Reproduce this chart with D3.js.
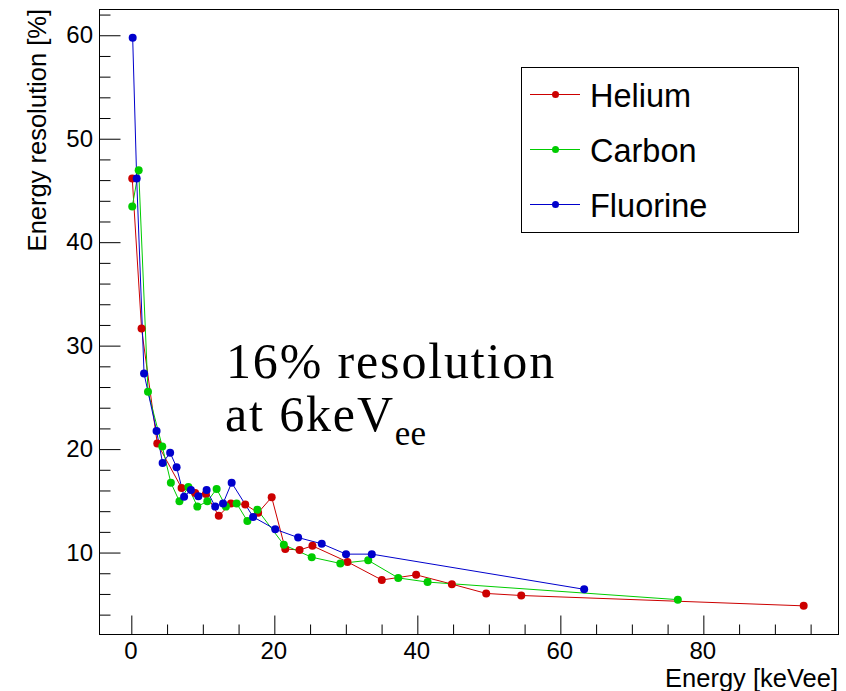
<!DOCTYPE html>
<html><head><meta charset="utf-8">
<script src="https://cdn.jsdelivr.net/npm/d3@7"></script>
<style>
body{margin:0;background:#fff;}
svg text{font-family:"Liberation Sans",Arial,Helvetica,sans-serif;fill:#000;}
</style>
</head><body>
<svg id="chart" width="846" height="691"></svg>
<script>
// ---- data ----
const heliumX = [0.2, 1.5, 3.7, 7.1, 9.0, 10.5, 12.3, 14.0, 16.0, 17.8, 19.7, 21.6, 23.6, 25.4, 30.3, 35.1, 39.9, 44.9, 49.7, 54.6, 94.1];
const heliumY = [46.1, 31.6, 20.5, 16.2, 15.7, 15.6, 13.5, 14.7, 14.6, 13.8, 15.3, 10.3, 10.2, 10.6, 9.05, 7.3, 7.8, 6.9, 6.0, 5.8, 4.8];
const carbonX = [0.2, 1.1, 2.4, 4.4, 5.6, 6.8, 8.05, 9.3, 10.7, 12.0, 13.3, 14.8, 16.3, 17.7, 21.4, 25.3, 29.3, 33.2, 37.4, 41.5, 76.5];
const carbonY = [43.4, 46.9, 25.5, 20.2, 16.7, 14.9, 16.3, 14.4, 14.9, 16.1, 14.4, 14.7, 13.0, 14.1, 10.7, 9.5, 8.9, 9.2, 7.5, 7.1, 5.4];
const fluorineX = [0.26, 0.82, 1.85, 3.6, 4.45, 5.5, 6.4, 7.45, 8.4, 9.45, 10.6, 11.8, 12.9, 14.1, 17.1, 20.2, 23.4, 26.7, 30.1, 33.7, 63.4];
const fluorineY = [59.7, 46.1, 27.25, 21.7, 18.6, 19.6, 18.2, 15.35, 16.0, 15.4, 16.0, 14.4, 14.7, 16.7, 13.4, 12.2, 11.4, 10.8, 9.8, 9.8, 6.4];

const seriesNames = ["Helium", "Carbon", "Fluorine"];
const seriesColors = ["#cc0000", "#00cc00", "#0000cc"];
const xTickValues = [0, 20, 40, 60, 80];
const yTickValues = [10, 20, 30, 40, 50, 60];
const xTitle = "Energy [keVee]";
const yTitle = "Energy resolution [%]";
const annotLine1 = "16% resolution";
const annotLine2 = "at 6keV";
const annotSub = "ee";

const series = [
  {name: seriesNames[0], color: seriesColors[0], xs: heliumX, ys: heliumY},
  {name: seriesNames[1], color: seriesColors[1], xs: carbonX, ys: carbonY},
  {name: seriesNames[2], color: seriesColors[2], xs: fluorineX, ys: fluorineY}
];

// ---- layout ----
const frame = {left: 99, right: 838, top: 9, bottom: 634};
const x = d3.scaleLinear().domain([-4.45, 98.9]).range([frame.left, frame.right]);
const y = d3.scaleLinear().domain([2.08, 62.49]).range([frame.bottom, frame.top]);

const svg = d3.select("#chart");
svg.append("rect").attr("width", 846).attr("height", 691).attr("fill", "#fff");

// frame
svg.append("rect")
  .attr("x", frame.left + 0.5).attr("y", frame.top + 0.5)
  .attr("width", frame.right - frame.left).attr("height", frame.bottom - frame.top)
  .attr("fill", "none").attr("stroke", "#000").attr("stroke-width", 1);

// X axis (ticks drawn inward)
const xMinor = d3.range(0, 96, 5).filter(v => xTickValues.indexOf(v) < 0);
const xAxisMajor = d3.axisTop(x).tickValues(xTickValues).tickSize(19).tickFormat("");
const xAxisMinor = d3.axisTop(x).tickValues(xMinor).tickSize(10).tickFormat("");
const gx = svg.append("g").attr("transform", `translate(0.5,${frame.bottom + 0.5})`);
gx.call(xAxisMajor); gx.select(".domain").remove();
const gx2 = svg.append("g").attr("transform", `translate(0.5,${frame.bottom + 0.5})`);
gx2.call(xAxisMinor); gx2.select(".domain").remove();

svg.append("g").selectAll("text").data(xTickValues).join("text")
  .attr("x", d => x(d)).attr("y", 658.5)
  .attr("text-anchor", "middle").attr("font-size", 24)
  .text(d => d);

// Y axis
const yMinor = d3.range(4, 63, 2).filter(v => yTickValues.indexOf(v) < 0);
const yAxisMajor = d3.axisRight(y).tickValues(yTickValues).tickSize(21).tickFormat("");
const yAxisMinor = d3.axisRight(y).tickValues(yMinor).tickSize(11).tickFormat("");
const gy = svg.append("g").attr("transform", `translate(${frame.left + 0.5},0.5)`);
gy.call(yAxisMajor); gy.select(".domain").remove();
const gy2 = svg.append("g").attr("transform", `translate(${frame.left + 0.5},0.5)`);
gy2.call(yAxisMinor); gy2.select(".domain").remove();
svg.selectAll("g line").attr("stroke", "#000");

svg.append("g").selectAll("text").data(yTickValues).join("text")
  .attr("x", 93).attr("y", d => y(d) + 8.5)
  .attr("text-anchor", "end").attr("font-size", 24)
  .text(d => d);

// axis titles
svg.append("text").attr("x", 838).attr("y", 686.5)
  .attr("text-anchor", "end").attr("font-size", 25.5).text(xTitle);
svg.append("text").attr("transform", "translate(46,9) rotate(-90)")
  .attr("text-anchor", "end").attr("font-size", 25.5).text(yTitle);

// series
const line = d3.line().x(d => x(d[0])).y(d => y(d[1]));
const plot = svg.append("g");
series.forEach(s => {
  const pts = s.xs.map((v, i) => [v, s.ys[i]]);
  plot.append("path").datum(pts).attr("d", line)
    .attr("fill", "none").attr("stroke", s.color).attr("stroke-width", 1);
});
series.forEach(s => {
  const pts = s.xs.map((v, i) => [v, s.ys[i]]);
  plot.append("g").selectAll("circle").data(pts).join("circle")
    .attr("cx", d => x(d[0])).attr("cy", d => y(d[1])).attr("r", 4)
    .attr("fill", s.color);
});

// annotation
const serif = "'Liberation Serif','Times New Roman',serif";
const ann = svg.append("g");
ann.append("text").attr("x", 226).attr("y", 378).attr("font-size", 50)
  .style("font-family", serif)
  .attr("letter-spacing", 1.85).text(annotLine1);
const t2 = ann.append("text").attr("x", 225).attr("y", 431).attr("font-size", 50)
  .style("font-family", serif)
  .attr("letter-spacing", 1.85);
t2.append("tspan").text(annotLine2);
t2.append("tspan").attr("font-size", 35).attr("dy", 14).attr("letter-spacing", 0).text(annotSub);

// legend
const leg = svg.append("g");
leg.append("rect").attr("x", 521.5).attr("y", 67.5).attr("width", 277).attr("height", 165)
  .attr("fill", "#fff").attr("stroke", "#000").attr("stroke-width", 1);
const legY = [94.5, 149.5, 204.5];
series.forEach((s, i) => {
  leg.append("line").attr("x1", 530).attr("x2", 580).attr("y1", legY[i]).attr("y2", legY[i])
    .attr("stroke", s.color).attr("stroke-width", 1);
  leg.append("circle").attr("cx", 555.5).attr("cy", legY[i]).attr("r", 3.5).attr("fill", s.color);
  leg.append("text").attr("x", 590).attr("y", legY[i] + 12).attr("font-size", 32.5).text(s.name);
});
</script>
</body></html>
